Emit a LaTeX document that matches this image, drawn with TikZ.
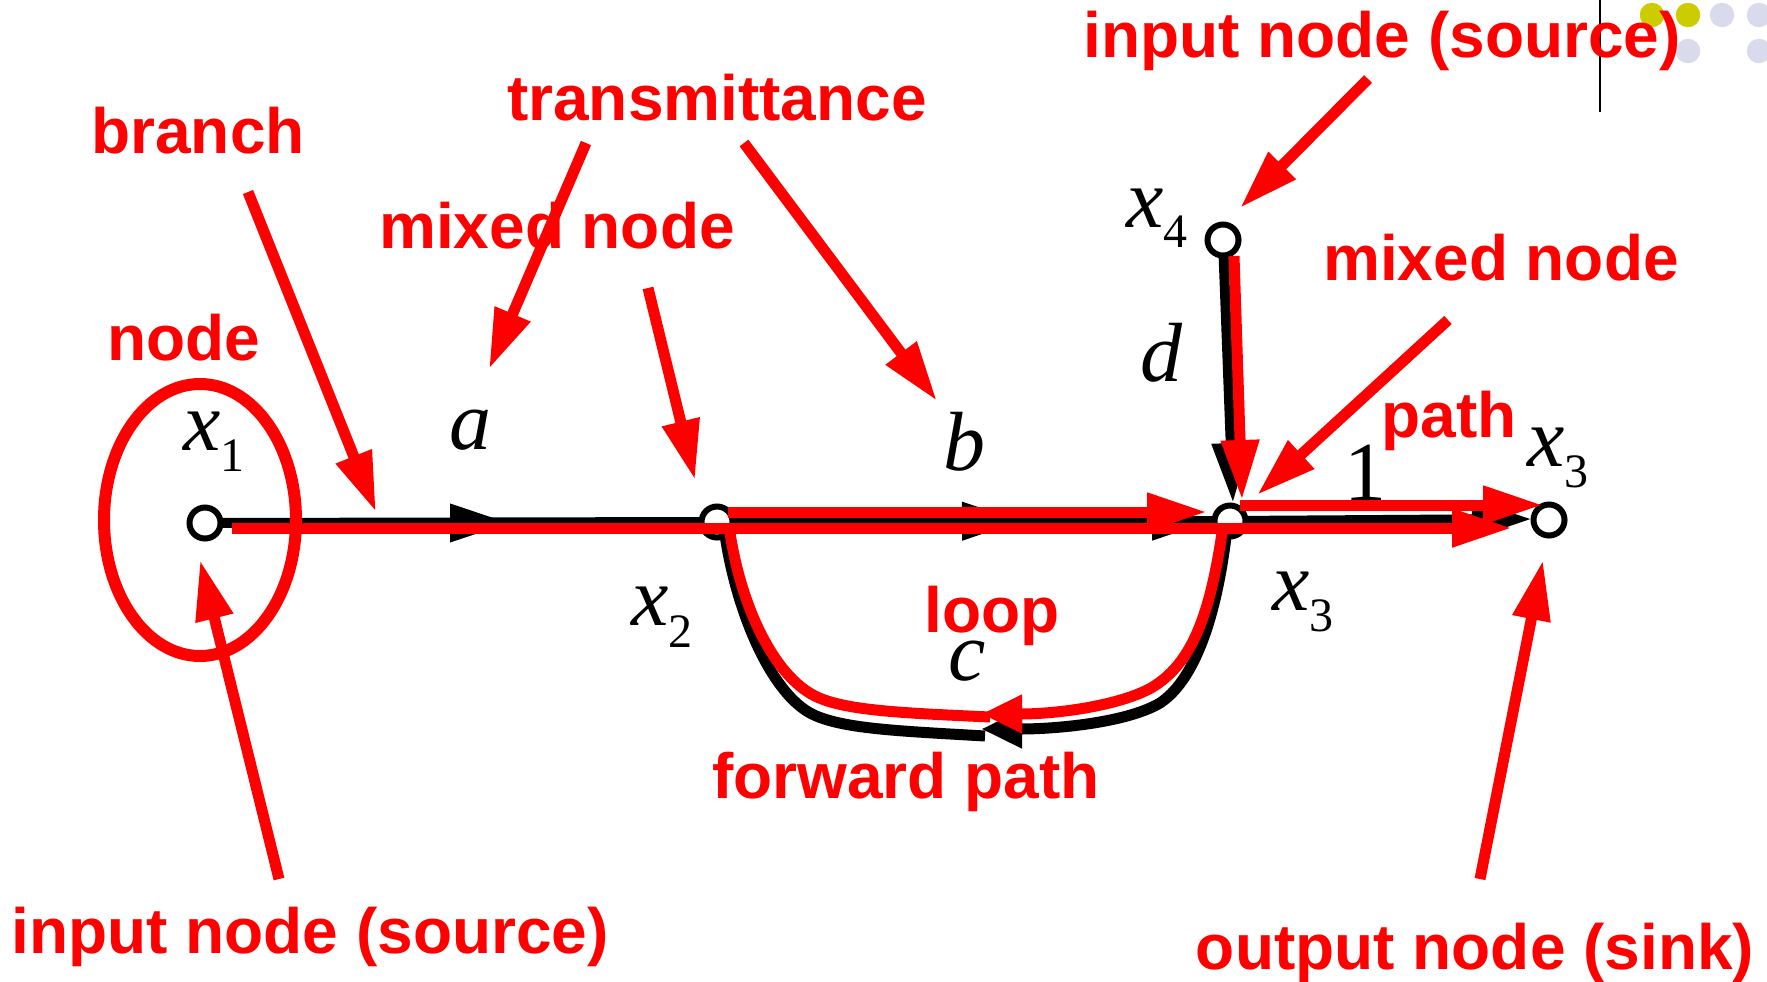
\documentclass[tikz,border=0pt]{standalone}
\usepackage{fontspec}
\setmainfont{Liberation Sans}
\newfontfamily\tnr{Liberation Serif}
\usetikzlibrary{arrows.meta,shapes.geometric}
\definecolor{olivedot}{HTML}{CCCC00}
\definecolor{lavdot}{HTML}{D9DAEC}
\tikzset{
  x=0.5pt,y=-0.5pt,
  lbl/.style={font=\bfseries\fontsize{32}{32}\selectfont,text=red,anchor=base,inner sep=0pt,outer sep=0pt},
  sym/.style={font=\tnr\fontsize{42}{42}\selectfont,text=black,anchor=base west,inner sep=0pt,outer sep=0pt},
  sgnode/.style={circle,draw=black,fill=white,line width=3pt,minimum size=15.5pt,inner sep=0pt,outer sep=0pt},
  blk/.style={draw=black,line width=5pt},
  blkarrow/.style={blk,-{Triangle[length=30pt,width=18pt]}},
  blkcurve/.style={draw=black,line width=5.5pt},
  blkcurvearrow/.style={blkcurve,-{Triangle[length=20.5pt,width=18pt]}},
  redl/.style={draw=red,line width=5.5pt},
  redarrow/.style={redl,-{Triangle[length=30pt,width=18pt]}},
  redcurvearrow/.style={redl,-{Triangle[length=20.5pt,width=18pt]}},
  dot/.style={circle,inner sep=0pt,minimum size=12.25pt,fill=#1},
}
\newcommand{\symsub}[3]{{\itshape #1}\raisebox{#3}{\fontsize{24}{24}\selectfont #2}}
\begin{document}
\begin{tikzpicture}
\useasboundingbox (0,0) rectangle (1767,981);
% decoration
\node[dot=olivedot] (d1) at (1652,15) {};
\node[dot=olivedot] (d2) at (1688,15) {};
\node[dot=lavdot] (d3) at (1722,15) {};
\node[dot=lavdot] (d4) at (1759,15) {};
\node[dot=lavdot] (d5) at (1688,51) {};
\node[dot=lavdot] (d6) at (1759,51) {};
\coordinate (rt) at (1600,0);
\coordinate (rb) at (1600,112);
\draw[black,line width=1.1pt] (rt) -- (rb);
% coordinates
\coordinate (n1) at (205,523);
\coordinate (n2) at (717,522);
\coordinate (n3) at (1230,521);
\coordinate (n4) at (1223,240);
\coordinate (n5) at (1549,520);
\coordinate (ta) at (510,523);
\coordinate (tb) at (1022,521);
\coordinate (tc) at (1212,521);
\coordinate (te) at (1532,519);
\coordinate (td) at (1233,503);
% black branches
\draw[blk] (n1) -- (n2);
\draw[blk] (n2) -- (n3);
\draw[blkarrow] (n1) -- (ta);
\draw[blkarrow] (n2) -- (tb);
\draw[blkarrow] (n2) -- (tc);
\draw[blkarrow] (n3) -- (te);
\draw[blkarrow] (n4) -- (td);
\coordinate (cbr) at (1226,537);
\coordinate (cbm) at (1160,703);
\coordinate (cbt) at (981,729);
\coordinate (cbl) at (812,714);
\coordinate (cbe) at (725,535);
\draw[blkcurvearrow] (cbr) .. controls (1215,625) and (1192,682) .. (cbm) .. controls (1128,722) and (1060,729) .. (cbt);
\draw[blkcurve] (cbe) .. controls (737,615) and (772,694) .. (cbl) .. controls (842,729) and (900,731) .. (985,736);
% nodes
\node[sgnode] (x1) at (n1) {};
\node[sgnode] (x2) at (n2) {};
\node[sgnode] (x3) at (n3) {};
\node[sgnode] (x4) at (n4) {};
\node[sgnode] (x5) at (n5) {};
% math labels
\node[sym] (lx1) at (183,450) {\symsub{x}{1}{-10.5pt}};
\node[sym] (lx2) at (631,625) {\symsub{x}{2}{-11pt}};
\node[sym] (lx3) at (1272,610) {\symsub{x}{3}{-10.5pt}};
\node[sym] (lx5) at (1527,466) {\symsub{x}{3}{-10.5pt}};
\node[sym] (lx4) at (1126,227) {\symsub{x}{4}{-10pt}};
\node[sym] (la) at (449,449) {\itshape a};
\node[sym] (lb) at (943,470) {\itshape b};
\node[sym] (lc) at (948,680) {\itshape c};
\node[sym] (ld) at (1140,381) {\itshape d};
\node[sym] (l1) at (1344,500) {1};
% red annotations
\node[draw=red,line width=6pt,ellipse,minimum width=96pt,minimum height=136pt,inner sep=0pt] (ell) at (200,520) {};
\coordinate (pa) at (232,528);
\coordinate (pb) at (1512,528);
\coordinate (pc) at (728,512);
\coordinate (pd) at (1207,512);
\coordinate (pe) at (1240,505);
\coordinate (pf) at (1543,505);
\coordinate (pg) at (1234,256);
\coordinate (ph) at (1242,500);
\draw[redarrow] (pa) -- (pb);
\draw[redarrow] (pc) -- (pd);
\draw[redarrow] (pe) -- (pf);
\draw[redarrow] (pg) -- (ph);
\coordinate (crr) at (1222,533);
\coordinate (crm) at (1151,688);
\coordinate (crt) at (981,714);
\coordinate (crl) at (815,696);
\coordinate (cre) at (730,533);
\draw[redcurvearrow] (crr) .. controls (1209,620) and (1190,665) .. (crm) .. controls (1120,705) and (1060,714) .. (crt);
\draw[redl] (cre) .. controls (742,610) and (775,676) .. (crl) .. controls (845,711) and (905,713) .. (990,717);
\coordinate (a1s) at (248,192);   \coordinate (a1e) at (376,512);
\coordinate (a2s) at (586,143);   \coordinate (a2e) at (489,369);
\coordinate (a3s) at (744,143);   \coordinate (a3e) at (937,401);
\coordinate (a4s) at (648,288);   \coordinate (a4e) at (695,480);
\coordinate (a5s) at (1368,79);   \coordinate (a5e) at (1240,208);
\coordinate (a6s) at (1448,320);  \coordinate (a6e) at (1257,495);
\coordinate (a7s) at (279,879);   \coordinate (a7e) at (200,560);
\coordinate (a8s) at (1480,879);  \coordinate (a8e) at (1543,560);
\draw[redarrow] (a1s) -- (a1e);
\draw[redarrow] (a2s) -- (a2e);
\draw[redarrow] (a3s) -- (a3e);
\draw[redarrow] (a4s) -- (a4e);
\draw[redarrow] (a5s) -- (a5e);
\draw[redarrow] (a6s) -- (a6e);
\draw[redarrow] (a7s) -- (a7e);
\draw[redarrow] (a8s) -- (a8e);
% red labels
\node[lbl] (t1) at (198,153) {branch};
\node[lbl] (t2) at (717,120) {transmittance};
\node[lbl] (t3) at (557,248) {mixed node};
\node[lbl] (t4) at (184,360) {node};
\node[lbl] (t5) at (1382,57) {input node (source)};
\node[lbl] (t6) at (1501,280) {mixed node};
\node[lbl] (t7) at (1449,437) {path};
\node[lbl] (t8) at (992,632) {loop};
\node[lbl] (t9) at (906,798) {forward path};
\node[lbl] (t10) at (310,953) {input node (source)};
\node[lbl] (t11) at (1475,969) {output node (sink)};
\end{tikzpicture}
\end{document}
